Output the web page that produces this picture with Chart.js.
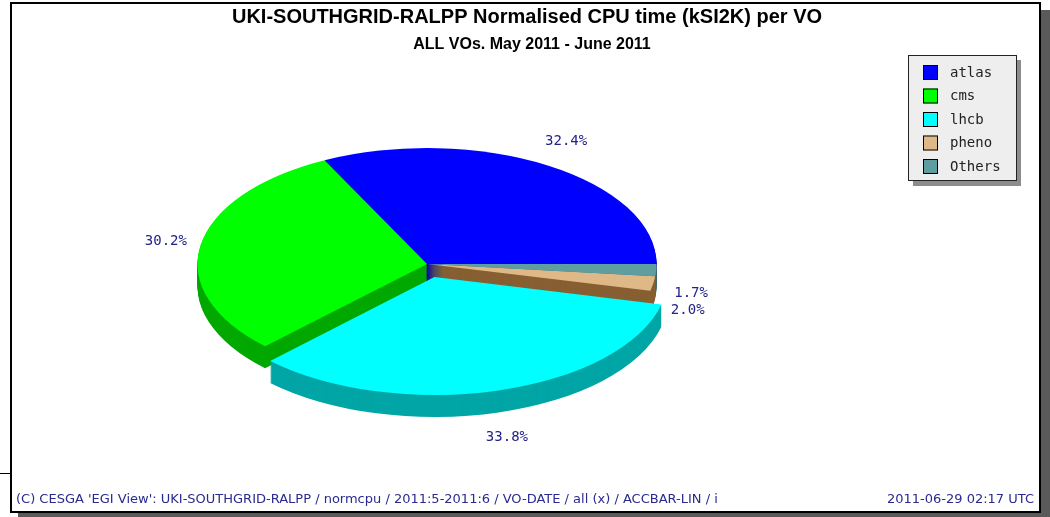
<!DOCTYPE html>
<html lang="en">
<head>
    <meta charset="UTF-8">
    <title>UKI-SOUTHGRID-RALPP Normalised CPU time per VO</title>
    <style>
        html, body { margin: 0; padding: 0; background: #fff; }
        .chart-container { width: 1050px; height: 517px; }
    </style>
</head>
<body>
    <div class="chart-container">
        <canvas id="pieChart"></canvas>
    </div>

    <script src="https://cdn.jsdelivr.net/npm/chart.js"></script>
    <script>
        // data
        const voNames = ['atlas', 'cms', 'lhcb', 'pheno', 'Others'];
        const cpuShare = [32.4, 30.2, 33.8, 2.0, 1.7];
        const titleText = 'UKI-SOUTHGRID-RALPP Normalised CPU time (kSI2K) per VO';
        const subtitleText = 'ALL VOs. May 2011 - June 2011';
        const footerLeft = "(C) CESGA 'EGI View': UKI-SOUTHGRID-RALPP / normcpu / 2011:5-2011:6 / VO-DATE / all (x) / ACCBAR-LIN / i";
        const footerRight = '2011-06-29 02:17 UTC';

        // styles
        const topColors = ['#0000ff', '#00ff00', '#00ffff', '#deb887', '#5f9ea0'];
        const sideColors = ['#0000a8', '#00a800', '#00a5a5', '#875f32', '#3e6e70'];
        const explodePx = [0, 0, 27, 0, 0];
        const squash = 0.505;   // ellipse ratio
        const depth = 22;       // 3d thickness in px

        const ctx = document.getElementById('pieChart').getContext('2d');

        function pieCentre(chart) {
            const a = chart.getDatasetMeta(0).data[0];
            return { x: a.x, y: a.y, r: a.outerRadius };
        }

        // flatten the pie and mirror it so slices run counter-clockwise
        function squashAround(c, cx, cy, dy) {
            c.translate(cx, cy + dy);
            c.scale(1, -squash);
            c.translate(-cx, -cy);
        }

        const pie3d = {
            id: 'pie3d',
            beforeDatasetsDraw(chart) {
                const c = chart.ctx;
                const arcs = chart.getDatasetMeta(0).data;
                const p = pieCentre(chart);
                // back slices first, front (exploded) ones last
                const order = arcs.map((a, i) => i).sort((i, j) => {
                    const mi = (arcs[i].startAngle + arcs[i].endAngle) / 2;
                    const mj = (arcs[j].startAngle + arcs[j].endAngle) / 2;
                    return Math.sin(mj) - Math.sin(mi);
                });
                for (const i of order) {
                    const arc = arcs[i];
                    const saved = arc.options;
                    arc.options = Object.assign({}, saved, { backgroundColor: sideColors[i], borderWidth: 0 });
                    for (let d = depth; d >= 1; d--) {
                        c.save();
                        squashAround(c, p.x, p.y, d);
                        arc.draw(c);
                        c.restore();
                    }
                    arc.options = saved;
                }
                c.save();
                squashAround(c, p.x, p.y, 0);
            },
            afterDatasetsDraw(chart) {
                const c = chart.ctx;
                c.restore();
                const arcs = chart.getDatasetMeta(0).data;
                const p = pieCentre(chart);
                c.save();
                // percent labels
                c.font = '14px "DejaVu Sans Mono"';
                c.fillStyle = '#22228b';
                c.textAlign = 'center';
                c.textBaseline = 'middle';
                arcs.forEach((arc, i) => {
                    const mid = (arc.startAngle + arc.endAngle) / 2;
                    const cs = Math.cos(mid), sn = Math.sin(mid);
                    const off = explodePx[i];
                    const lx = p.x + cs * (p.r + 35 + off);
                    let ly = p.y - sn * (p.r + 55 + off) * squash;
                    if (sn < 0) ly += depth;
                    c.fillText(cpuShare[i].toFixed(1) + '%', lx, ly);
                });
                c.restore();
            }
        };

        const frame = {
            id: 'frame',
            beforeDraw(chart) {
                const c = chart.ctx;
                c.save();
                c.fillStyle = '#fff';
                c.fillRect(0, 0, chart.width, chart.height);
                // shadow
                c.fillStyle = '#5a5a5a';
                c.fillRect(1041, 10, 9, 507);
                c.fillRect(18, 513, 1032, 4);
                // border
                c.strokeStyle = '#000';
                c.lineWidth = 2;
                c.strokeRect(11, 3, 1029, 509);
                c.lineWidth = 1;
                c.beginPath();
                c.moveTo(0, 473.5);
                c.lineTo(11, 473.5);
                c.stroke();
                c.restore();
            },
            afterDraw(chart) {
                const c = chart.ctx;
                c.save();
                c.fillStyle = '#000';
                c.textAlign = 'center';
                c.textBaseline = 'middle';
                c.font = 'bold 20px "Liberation Sans"';
                c.fillText(titleText, 527, 17, 668);
                c.font = 'bold 16px "Liberation Sans"';
                c.fillText(subtitleText, 532, 45, 290);

                // legend
                c.fillStyle = '#8c8c8c';
                c.fillRect(913, 60, 108, 126);
                c.fillStyle = '#eeeeee';
                c.fillRect(908, 55, 109, 126);
                c.strokeStyle = '#222';
                c.lineWidth = 1;
                c.strokeRect(908.5, 55.5, 108, 125);
                c.textAlign = 'left';
                c.font = '14px "DejaVu Sans Mono"';
                voNames.forEach((name, i) => {
                    const y = 72 + i * 23.5;
                    c.fillStyle = topColors[i];
                    c.fillRect(923, y - 7, 15, 15);
                    c.strokeStyle = '#000';
                    c.strokeRect(923.5, y - 6.5, 14, 14);
                    c.fillStyle = '#222';
                    c.fillText(name, 950, y + 1);
                });

                // footer
                c.fillStyle = '#2a2a90';
                c.font = '13px "DejaVu Sans"';
                c.textAlign = 'left';
                c.fillText(footerLeft, 16, 500, 782);
                c.textAlign = 'right';
                c.fillText(footerRight, 1034, 500, 158);
                c.restore();
            }
        };

        new Chart(ctx, {
            type: 'pie',
            data: {
                labels: voNames,
                datasets: [{
                    data: cpuShare,
                    backgroundColor: topColors,
                    borderWidth: 0,
                    // ArcElement moves a slice by offset / 4
                    offset: explodePx.map(v => v * 4)
                }]
            },
            options: {
                responsive: true,
                maintainAspectRatio: false,
                animation: false,
                events: [],
                rotation: 90,
                radius: 229.5,
                layout: {
                    padding: { left: 177, right: 373, top: 24, bottom: 13 }
                },
                plugins: {
                    legend: { display: false },
                    tooltip: { enabled: false },
                    title: { display: false }
                }
            },
            plugins: [frame, pie3d]
        });
    </script>
</body>
</html>
